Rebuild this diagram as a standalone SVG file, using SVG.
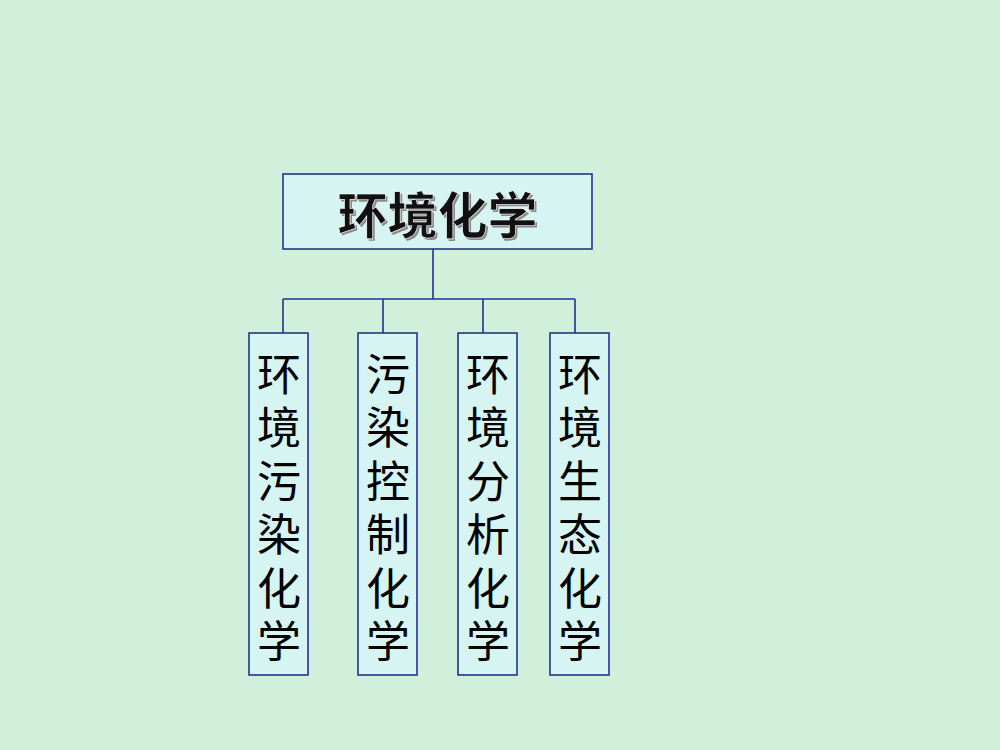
<svg xmlns="http://www.w3.org/2000/svg" width="1000" height="750" viewBox="0 0 1000 750">
<style>
.box{fill:#D5F4F2;stroke:#22338F;stroke-width:1.6}
.ln{fill:none;stroke:#22338F;stroke-width:1.6}
.v{font-family:"Noto Sans CJK SC","Noto Sans CJK JP",sans-serif;font-size:44px;fill:#000;writing-mode:vertical-rl;letter-spacing:9.5px}
.t{font-family:"Noto Sans CJK SC","Noto Sans CJK JP",sans-serif;font-size:50px;font-weight:bold;text-anchor:middle}
</style>
<rect x="0" y="0" width="1000" height="750" fill="#D0F0DC"/>
<g id="connectors">
<path class="ln" d="M433 249V299M283 299H575M283 299V333M383 299V333M483 299V333M575 299V333"/>
</g>
<g id="root">
<rect class="box" x="283" y="174" width="309" height="75"/>
<text class="t" x="439.5" y="236" fill="#8a8a8a">环境化学</text>
<text class="t" x="437.5" y="234" fill="#111" stroke="#ffffff" stroke-width="0.6">环境化学</text>
</g>
<g id="n1">
<rect class="box" x="249" y="333" width="59" height="342"/>
<text class="v" x="279" y="352">环境污染化学</text>
</g>
<g id="n2">
<rect class="box" x="358" y="333" width="59" height="342"/>
<text class="v" x="388" y="352">污染控制化学</text>
</g>
<g id="n3">
<rect class="box" x="458" y="333" width="59" height="342"/>
<text class="v" x="488" y="352">环境分析化学</text>
</g>
<g id="n4">
<rect class="box" x="550" y="333" width="59" height="342"/>
<text class="v" x="580" y="352">环境生态化学</text>
</g>
</svg>
